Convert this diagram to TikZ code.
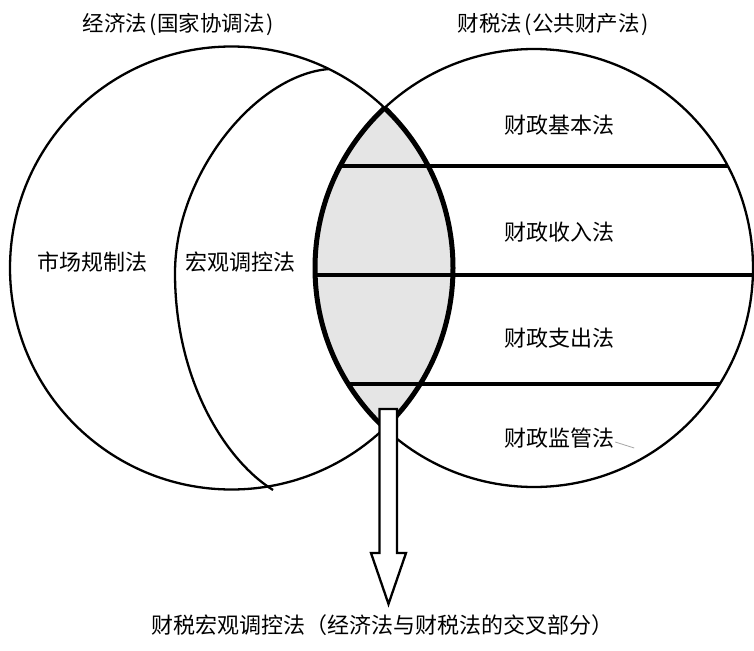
\documentclass[tikz,border=0pt]{standalone}
\usepackage{fontspec}
\newfontfamily\cjk{Noto Sans CJK SC}
\begin{document}
\begin{tikzpicture}[x=1pt,y=-1pt,
  lbl/.style={inner sep=0pt,font=\cjk\fontsize{22}{26}\selectfont},
  ttl/.style={inner sep=0pt,font=\cjk\fontsize{21.5}{26}\selectfont},
  outline/.style={line width=2.3pt},
  chord/.style={line width=3.3pt},
  lensedge/.style={line width=5pt}]
\useasboundingbox (0,0) rectangle (754,650);
\fill[white] (0,0) rectangle (754,650);
\coordinate (cl) at (231.5,268);
\coordinate (cr) at (534,268);
% lens fill
\begin{scope}
  \clip (cl) circle[radius=221.5pt];
  \fill[black!10] (cr) circle[radius=219pt];
\end{scope}
% horizontal chords of right circle
\begin{scope}
  \clip (cr) circle[radius=219pt];
  \draw[chord] (300,166) -- (760,166);
  \draw[chord] (300,275) -- (760,275);
  \draw[chord] (300,384) -- (760,384);
\end{scope}
% outer circles
\draw[outline] (cl) circle[radius=221.5pt];
\draw[outline] (cr) circle[radius=219pt];
% inner arc
\draw[outline] (329,69) .. controls (255,75) and (175,175) .. (175,273)
  .. controls (175,380) and (225,460) .. (273,490);
% lens border
\begin{scope}
  \clip (cl) circle[radius=221.5pt];
  \draw[lensedge] (cr) circle[radius=219pt];
\end{scope}
\begin{scope}
  \clip (cr) circle[radius=219pt];
  \draw[lensedge] (cl) circle[radius=221.5pt];
\end{scope}
% hollow arrow
\draw[line width=2.3pt,fill=white,line join=miter]
  (379.5,409) -- (397,409) -- (397,553) -- (406,553) -- (388.5,604)
  -- (371,553) -- (379.5,553) -- cycle;
% labels
\node[ttl] (t1) at (178,25) {经济法\kern2pt(\kern1pt国家协调法\kern1pt)};
\node[ttl] (t2) at (553,25) {财税法\kern2pt(\kern1pt公共财产法\kern1pt)};
\node[lbl] (scgz) at (92,262) {市场规制法};
\node[lbl] (hgtk) at (240,262) {宏观调控法};
\node[lbl] (jbf) at (559,125) {财政基本法};
\node[lbl] (srf) at (559,232) {财政收入法};
\node[lbl] (zcf) at (559,338) {财政支出法};
\node[lbl] (jgf) at (559,438) {财政监管法};
\node[lbl] (cap) at (382,625) {财税宏观调控法（经济法与财税法的交叉部分）};
\draw[black!35,line width=0.8pt] (jgf.east) ++(1,4) -- ++(19,6);
\end{tikzpicture}
\end{document}
